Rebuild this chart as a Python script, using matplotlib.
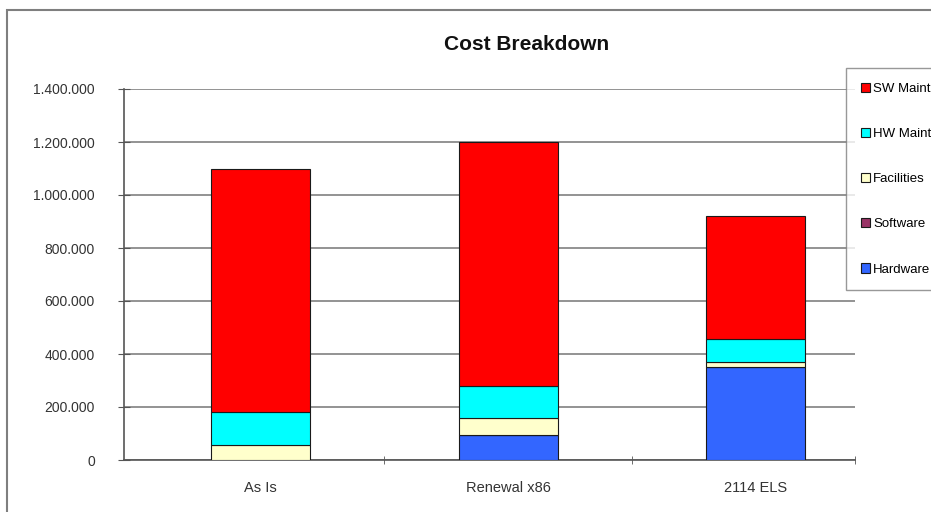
import numpy as np
import matplotlib
matplotlib.use('Agg')
import matplotlib.pyplot as plt
from matplotlib.patches import Rectangle
from matplotlib.ticker import FuncFormatter

categories = ['As Is', 'Renewal x86', '2114 ELS']
series_names = ['Hardware', 'Software', 'Facilities', 'HW Maint', 'SW Maint']
hardware = [0, 95000, 350000]
software = [0, 0, 0]
facilities = [55000, 63000, 20000]
hw_maint = [127000, 122000, 85000]
sw_maint = [918000, 920000, 465000]
colors = ['#3366FF', '#993366', '#FFFFCC', '#00FFFF', '#FF0000']

plt.rcParams['font.family'] = ['Liberation Sans', 'DejaVu Sans']

fig = plt.figure(figsize=(9.31, 5.12), dpi=100)
fig.patches.append(Rectangle((7 / 931, -0.1), 1.2, 1 - 10 / 512 + 0.1,
                             transform=fig.transFigure, fill=False,
                             edgecolor='#7f7f7f', linewidth=1.5))

ax = fig.add_axes([124 / 931, 1 - 460 / 512, (855 - 124) / 931, (460 - 89) / 512])
x = np.arange(len(categories))
bottom = np.zeros(len(categories))
for name, vals, col in zip(series_names,
                           [hardware, software, facilities, hw_maint, sw_maint],
                           colors):
    ax.bar(x, vals, 0.4, bottom=bottom, color=col, edgecolor='#1a1a1a',
           linewidth=0.8, label=name, zorder=3)
    bottom += np.array(vals)

ax.set_ylim(0, 1400000)
ax.set_xlim(-0.55, 2.4)
ax.set_yticks(np.arange(0, 1400001, 200000))
ax.yaxis.set_major_formatter(FuncFormatter(lambda v, p: f'{int(v):,}'.replace(',', '.')))
ax.grid(axis='y', color='#808080', linewidth=1.2, zorder=0)
ax.set_xticks(x)
ax.set_xticklabels(categories, fontsize=10.5, color='#333333')
ax.set_xticks([0.5, 1.5, 2.4], minor=True)
ax.tick_params(axis='x', which='major', length=0, pad=15)
ax.tick_params(axis='x', which='minor', length=6, direction='inout', color='#555555')
ax.tick_params(axis='y', length=8, direction='inout', color='#555555',
               labelsize=10, labelcolor='#333333', pad=17)
for s in ['top', 'right']:
    ax.spines[s].set_visible(False)
for s in ['left', 'bottom']:
    ax.spines[s].set_color('#555555')
    ax.spines[s].set_linewidth(1.2)

fig.text(527 / 931, 1 - 45 / 512, 'Cost Breakdown', ha='center', va='center',
         fontsize=15, fontweight='bold', color='#111111')

handles, labels = ax.get_legend_handles_labels()
leg = fig.legend(handles[::-1], labels[::-1], loc='upper left',
                 bbox_to_anchor=(846 / 931, 1 - 68 / 512), frameon=True,
                 fancybox=False, edgecolor='#7f7f7f', fontsize=9.5,
                 handlelength=0.7, handleheight=0.7, handletextpad=0.25,
                 labelspacing=2.5, borderpad=1.1, borderaxespad=0)
leg.get_frame().set_linewidth(1.0)

fig.savefig('out.png', dpi=100)
